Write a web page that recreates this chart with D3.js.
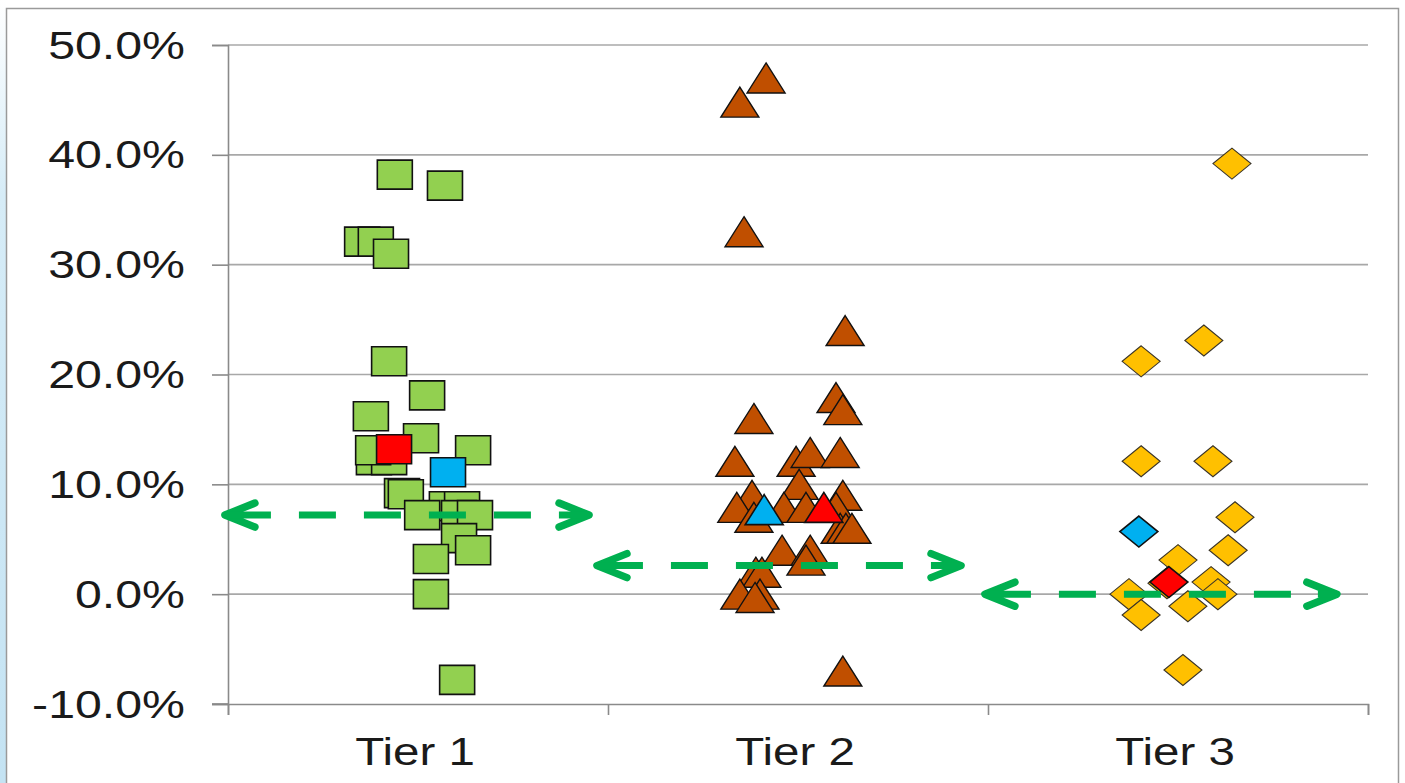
<!DOCTYPE html>
<html>
<head>
<meta charset="utf-8">
<script src="https://cdn.jsdelivr.net/npm/d3@7"></script>
<style>
  html, body { margin: 0; padding: 0; background: #ffffff; }
  svg { display: block; }
  text { font-family: "Liberation Sans", Arial, sans-serif; fill: #1a1a1a; }
</style>
</head>
<body>
<svg id="chart" width="1405" height="783"></svg>
<script>
// Category labels and axis ticks
const tiers = ["Tier 1", "Tier 2", "Tier 3"];
const yTicks = [-0.10, 0.0, 0.10, 0.20, 0.30, 0.40, 0.50];

// Tier 1 observations: x position (jittered around the tier index) and return
const tier1X = [0.939, 1.071, 0.853, 0.889, 0.929, 0.924, 1.024, 0.876, 1.008, 0.884, 0.924, 0.882, 1.145,
                0.958, 0.968, 1.076, 1.116, 1.011, 1.108, 1.150, 1.108, 1.145, 1.034, 1.034, 1.103];
const tier1Y = [0.382, 0.372, 0.321, 0.321, 0.310, 0.212, 0.181, 0.162, 0.142, 0.122, 0.122, 0.131, 0.131,
                0.092, 0.091, 0.080, 0.080, 0.072, 0.072, 0.072, 0.051, 0.040, 0.032, 0.000, -0.078];

// Tier 2 observations
const tier2X = [1.916, 1.847, 1.858, 2.124, 2.100, 2.118, 1.884, 1.834, 1.995, 2.032, 2.111, 2.003,
                1.879, 2.118, 1.839, 1.884, 1.963, 2.021, 2.100, 2.111, 2.126, 2.142,
                1.958, 2.032, 2.021, 1.889, 1.905, 1.847, 1.900, 1.887, 2.118];
const tier2Y = [0.470, 0.448, 0.330, 0.240, 0.179, 0.168, 0.160, 0.121, 0.121, 0.129, 0.129, 0.100,
                0.090, 0.090, 0.079, 0.070, 0.079, 0.079, 0.079, 0.060, 0.060, 0.060,
                0.040, 0.040, 0.031, 0.020, 0.020, 0.000, 0.000, -0.003, -0.070];

// Tier 3 observations
const tier3X = [3.142, 3.068, 2.903, 2.903, 3.092, 3.150, 3.132, 3.000, 2.971, 3.087,
                2.871, 3.105, 3.026, 2.903, 3.013];
const tier3Y = [0.392, 0.231, 0.212, 0.121, 0.121, 0.070, 0.040, 0.031, 0.010, 0.011,
                0.000, 0.000, -0.011, -0.019, -0.069];

// Summary markers per tier (blue and red)
const blueX = [1.079, 1.911, 2.897];
const blueY = [0.111, 0.077, 0.057];
const redX = [0.937, 2.068, 2.976];
const redY = [0.132, 0.079, 0.011];

// Benchmark level per tier, drawn as a dashed double-headed arrow
const benchLevel = [0.072, 0.026, 0.000];
const benchStart = [0.484, 1.463, 2.484];
const benchEnd = [1.458, 2.437, 3.426];

const svg = d3.select("#chart");
const W = 1405, H = 783;
const plot = { left: 228, right: 1368, top: 45, bottom: 704 };
const stretch = 1.27;

// Page frame and soft blue edge
const defs = svg.append("defs");
const grad = defs.append("linearGradient").attr("id", "edge").attr("x1", 0).attr("y1", 0).attr("x2", 0).attr("y2", 1);
grad.append("stop").attr("offset", "0").attr("stop-color", "#ffffff");
grad.append("stop").attr("offset", "0.25").attr("stop-color", "#d6ecf7");
grad.append("stop").attr("offset", "1").attr("stop-color", "#c4e3f3");
svg.append("rect").attr("x", 0).attr("y", 0).attr("width", 6).attr("height", H).attr("fill", "url(#edge)");
svg.append("rect").attr("x", 6.5).attr("y", 8.5).attr("width", 1392).attr("height", H + 20)
  .attr("fill", "#ffffff").attr("stroke", "#9a9a9a").attr("stroke-width", 1.5);

const x = d3.scaleLinear().domain([0.5, 3.5]).range([plot.left, plot.right]);
const y = d3.scaleLinear().domain([-0.10, 0.50]).range([plot.bottom, plot.top]);

// Gridlines
svg.append("g").selectAll("line").data(yTicks.filter(t => t > -0.10)).join("line")
  .attr("x1", plot.left).attr("x2", plot.right)
  .attr("y1", d => y(d)).attr("y2", d => y(d))
  .attr("stroke", "#a8a8a8").attr("stroke-width", 1.6);

// Y axis, percentages with a plain hyphen for negatives
const pct = d3.format(".1%");
const yAxis = svg.append("g").attr("transform", `translate(${plot.left},0)`)
  .call(d3.axisLeft(y).tickValues(yTicks).tickSize(16).tickFormat(d => pct(d).replace("\u2212", "-")));
yAxis.select(".domain").attr("stroke", "#8a8a8a").attr("stroke-width", 1.6);
yAxis.selectAll(".tick line").attr("stroke", "#8a8a8a").attr("stroke-width", 1.6);
yAxis.selectAll(".tick text").each(function () {
  const t = d3.select(this);
  t.attr("x", null).attr("dy", null).attr("text-anchor", "end")
    .attr("font-size", 38).attr("fill", "#1a1a1a")
    .attr("transform", `translate(-43,13) scale(${stretch},1)`);
});

// X axis with category boundaries
const xAxis = svg.append("g").attr("transform", `translate(0,${plot.bottom})`)
  .call(d3.axisBottom(x).tickValues([0.5, 1.5, 2.5, 3.5]).tickSize(11).tickFormat(""));
xAxis.select(".domain").attr("stroke", "#8a8a8a").attr("stroke-width", 1.6);
xAxis.selectAll(".tick line").attr("stroke", "#8a8a8a").attr("stroke-width", 1.6);
svg.append("line").attr("x1", plot.left - 16).attr("x2", plot.left)
  .attr("y1", plot.bottom).attr("y2", plot.bottom).attr("stroke", "#8a8a8a").attr("stroke-width", 1.6);

svg.append("g").selectAll("text").data(tiers).join("text")
  .attr("text-anchor", "middle").attr("font-size", 38)
  .attr("transform", (d, i) => `translate(${x(i + 1) - 3},${plot.bottom + 61}) scale(${stretch - 0.02},1)`)
  .text(d => d);

// Marker shapes
const rectPath = (w, h) => `M${-w / 2},${-h / 2}H${w / 2}V${h / 2}H${-w / 2}Z`;
const diamondPath = (w, h) => `M0,${-h / 2}L${w / 2},0L0,${h / 2}L${-w / 2},0Z`;
const trianglePath = (w, h) => `M0,${-h / 2}L${w / 2},${h / 2}L${-w / 2},${h / 2}Z`;
const shapes = [rectPath(35, 29), trianglePath(38, 30), diamondPath(38, 31)];

function drawPoints(xs, ys, shape, fill, stroke, sw) {
  svg.append("g").selectAll("path").data(xs.map((v, i) => [v, ys[i]])).join("path")
    .attr("d", shape)
    .attr("transform", d => `translate(${x(d[0])},${y(d[1])})`)
    .attr("fill", fill).attr("stroke", stroke).attr("stroke-width", sw)
    .attr("stroke-linejoin", "miter");
}

drawPoints(tier1X, tier1Y, shapes[0], "#92d050", "#111111", 1.6);
drawPoints(tier2X, tier2Y, shapes[1], "#c04f00", "#111111", 1.4);
drawPoints(tier3X, tier3Y, shapes[2], "#ffc000", "#3a3428", 1.1);

// Benchmark arrows
const green = "#00b050";
benchLevel.forEach((lv, i) => {
  const yy = y(lv), x0 = x(benchStart[i]), x1 = x(benchEnd[i]);
  const g = svg.append("g");
  g.append("line").attr("x1", x0 + 6).attr("x2", x1 - 6).attr("y1", yy).attr("y2", yy)
    .attr("stroke", green).attr("stroke-width", 7)
    .attr("stroke-dasharray", "37 28").attr("stroke-dashoffset", 59);
  const head = (tip, dir) => `M${tip - dir * 30},${yy - 12}L${tip},${yy}L${tip - dir * 30},${yy + 12}`;
  g.append("path").attr("d", head(x1 - 3, 1)).attr("fill", "none").attr("stroke", green)
    .attr("stroke-width", 7.5).attr("stroke-linecap", "round").attr("stroke-linejoin", "round");
  g.append("path").attr("d", head(x0 + 3, -1)).attr("fill", "none").attr("stroke", green)
    .attr("stroke-width", 7.5).attr("stroke-linecap", "round").attr("stroke-linejoin", "round");
  g.append("line").attr("x1", x0 + 3).attr("x2", x0 + 22).attr("y1", yy).attr("y2", yy)
    .attr("stroke", green).attr("stroke-width", 7);
  g.append("line").attr("x1", x1 - 22).attr("x2", x1 - 3).attr("y1", yy).attr("y2", yy)
    .attr("stroke", green).attr("stroke-width", 7);
});

// Summary markers
tiers.forEach((t, i) => {
  drawPoints([blueX[i]], [blueY[i]], shapes[i], "#00b0f0", "#111111", 1.6);
  drawPoints([redX[i]], [redY[i]], shapes[i], "#ff0000", "#111111", 1.6);
});
</script>
</body>
</html>
